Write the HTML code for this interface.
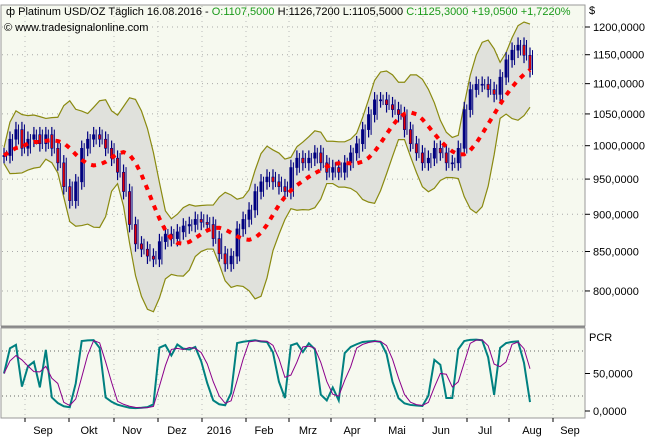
<!DOCTYPE html>
<html><head><meta charset="utf-8"><style>
html,body{margin:0;padding:0;background:#fff;}
body{width:656px;height:437px;overflow:hidden;font-family:"Liberation Sans",sans-serif;}
svg text{font-family:"Liberation Sans",sans-serif;font-size:11px;}
</style></head><body>
<svg id="chart" width="656" height="437" xmlns="http://www.w3.org/2000/svg">
<rect x="0" y="0" width="656" height="437" fill="#ffffff"/>
<rect x="1" y="5" width="584" height="321" fill="#f6f9ef" stroke="#999" stroke-width="1"/>
<rect x="1" y="328" width="584" height="90" fill="#f6f9ef" stroke="#999" stroke-width="1"/>
<line x1="1" y1="326.5" x2="585" y2="326.5" stroke="#888" stroke-width="2"/>
<g id="grid"></g>
<g id="band"></g>
<g id="bars"></g>
<g id="ma"></g>
<g id="osc"></g>
<g id="axes"></g>
<text x="6" y="15" fill="#000">
<tspan>ф Platinum USD/OZ Täglich  16.08.2016 - </tspan><tspan fill="#1a9a1a">O:1107,5000</tspan><tspan> H:1126,7200 L:1105,5000 </tspan><tspan fill="#1a9a1a">C:1125,3000 +19,0500 +1,7220%</tspan></text>
<text x="4" y="31" fill="#000">© www.tradesignalonline.com</text>
<text x="589" y="14" fill="#000">$</text>
<text x="589" y="341" fill="#000">PCR</text>
</svg>
<script>
const closes=[985,1010,1025,996,1010,1017,1003,1017,996,974,939,919,946,996,1010,1017,1010,996,981,960,932,886,860,853,844,840,863,873,867,876,884,886,893,889,886,867,847,834,844,880,893,906,932,946,953,946,939,932,967,981,974,981,989,974,960,967,960,974,989,1003,1025,1049,1073,1073,1065,1057,1049,1025,1003,989,974,981,996,989,974,974,996,1057,1090,1099,1099,1090,1082,1111,1141,1158,1167,1149,1124];
const priceTicks=[1200,1150,1100,1050,1000,950,900,850,800];
const oscTicks=[50,0];
const monthLabels=["Sep","Okt","Nov","Dez","2016","Feb","Mrz","Apr","Mai","Jun","Jul","Aug","Sep"];
const monthX=[43,89,132,177,219,264,308,352,397,441,485,532,570];
const tickX=[25,69,114,158,202,246,289,331,375,423,467,509,553];

const NS="http://www.w3.org/2000/svg";
function mk(tag,attrs,parent){const e=document.createElementNS(NS,tag);for(const k in attrs)e.setAttribute(k,attrs[k]);parent.appendChild(e);return e;}
const yP=p=>27+651*Math.log(1200/p);
const x0=4,x1=530;
const xI=i=>x0+(x1-x0)*i/(closes.length-1);
const yO=v=>411-0.75*v;
const G=id=>document.getElementById(id);

const grid=G('grid');
priceTicks.forEach(p=>{const l=mk('line',{x1:2,x2:585,y1:yP(p),y2:yP(p),stroke:'#aaa','stroke-dasharray':'1,4'},grid);
});
[80,20].forEach(v=>{const l=mk('line',{x1:2,x2:585,y1:yO(v),y2:yO(v),stroke:'#666','stroke-dasharray':'1,3'},grid);
});
tickX.forEach(x=>{[[6,326],[329,418]].forEach(r=>{const l=mk('line',{x1:x,x2:x,y1:r[0],y2:r[1],stroke:'#bbb','stroke-dasharray':'1,4'},grid);
});});

const N=7;const ma=[],up=[],lo=[];
closes.forEach((c,i)=>{const s=closes.slice(Math.max(0,i-N+1),i+1);const m=s.reduce((a,b)=>a+b,0)/s.length;
const sd=Math.sqrt(s.reduce((a,b)=>a+(b-m)*(b-m),0)/s.length);ma.push(m);up.push(m+2.2*sd+12);lo.push(m-2.2*sd-12);});
let d='M'+up.map((v,i)=>xI(i)+','+yP(v)).join(' L')+' L'+lo.map((v,i)=>xI(i)+','+yP(v)).reverse().join(' L')+'Z';
let b=mk('path',{d:d,fill:'#e0e1dc',stroke:'none'},G('band'));

[up,lo].forEach((arr,k)=>{const l=mk('polyline',{points:arr.map((v,i)=>xI(i)+','+yP(v)).join(' '),fill:'none',stroke:'#8a8a10','stroke-width':1.2},G('band'));
});

closes.forEach((c,i)=>{const o=i?closes[i-1]:c;const h=Math.max(o,c)*1.012,l=Math.min(o,c)*0.988;const x=xI(i);
const bl=mk('line',{x1:x,x2:x,y1:yP(h),y2:yP(l),stroke:'#000080','stroke-width':1.2},G('bars'));

const bl2=mk('line',{x1:x+2.5,x2:x+2.5,y1:yP(h*0.996),y2:yP(l*1.004),stroke:'#000080','stroke-width':1},G('bars'));

const r=mk('rect',{x:x-1.2,y:yP(Math.max(o,c)),width:2.4,height:Math.max(1,Math.abs(yP(o)-yP(c))),fill:c<o?'#e00000':'#000080',stroke:'#000080','stroke-width':0.6},G('bars'));
});

const sm=[];ma.forEach((v,i)=>{const s=ma.slice(Math.max(0,i-3),i+1);sm.push(s.reduce((a,b)=>a+b,0)/s.length);});
const mal=mk('polyline',{points:sm.map((v,i)=>xI(i)+','+yP(v)).join(' '),fill:'none',stroke:'#ff0000','stroke-width':4,'stroke-dasharray':'5,6'},G('ma'));


const P=5;const k=closes.map((c,i)=>{const s=closes.slice(Math.max(0,i-P+1),i+1);const hi=Math.max(...s)*1.006,lw=Math.min(...s)*0.994;return 100*(c-lw)/(hi-lw);});
const dd=k.map((v,i)=>{const s=k.slice(Math.max(0,i-2),i+1);return s.reduce((a,b)=>a+b,0)/s.length;});
const ol=mk('polyline',{points:k.map((v,i)=>xI(i)+','+yO(v)).join(' '),fill:'none',stroke:'#008080','stroke-width':2},G('osc'));

const sl=mk('polyline',{points:dd.map((v,i)=>xI(i)+','+yO(v)).join(' '),fill:'none',stroke:'#8b008b','stroke-width':1},G('osc'));


const ax=G('axes');
priceTicks.forEach(p=>{const y=yP(p);mk('line',{x1:585,x2:590,y1:y,y2:y,stroke:'#000'},ax);
const t=mk('text',{x:593,y:y+4,fill:'#000'},ax);t.textContent=p.toFixed(4).replace('.',',');
});
oscTicks.forEach(v=>{const y=yO(v);mk('line',{x1:585,x2:590,y1:y,y2:y,stroke:'#000'},ax);
const t=mk('text',{x:593,y:y+4,fill:'#000'},ax);t.textContent=v.toFixed(4).replace('.',',');
});
tickX.forEach(x=>{mk('line',{x1:x,x2:x,y1:418,y2:422,stroke:'#000'},ax);});
monthLabels.forEach((m,i)=>{const t=mk('text',{x:monthX[i],y:434,fill:'#000','text-anchor':'middle'},ax);t.textContent=m;
});
</script>
</body></html>
